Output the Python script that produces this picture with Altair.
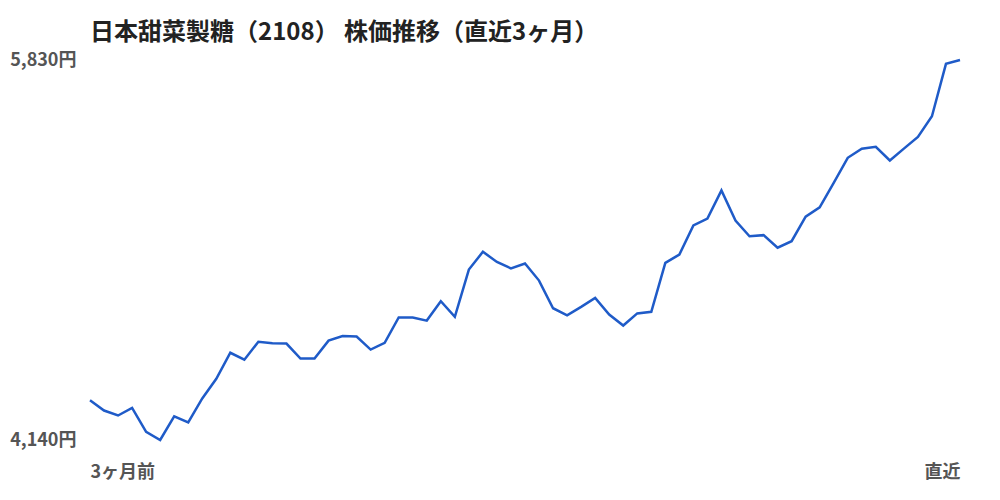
import altair as alt
import pandas as pd

prices = [4317, 4271, 4249, 4283, 4176, 4140, 4245, 4218, 4325, 4412,
          4528, 4497, 4577, 4570, 4569, 4502, 4502, 4582, 4602, 4600,
          4542, 4572, 4685, 4685, 4671, 4757, 4688, 4898, 4977, 4932,
          4903, 4925, 4849, 4726, 4694, 4732, 4772, 4698, 4649, 4703,
          4710, 4928, 4965, 5094, 5125, 5250, 5116, 5046, 5051, 4995,
          5024, 5133, 5175, 5284, 5395, 5435, 5444, 5383, 5436, 5488,
          5580, 5813, 5830]
days = list(range(len(prices)))
y_ticks = [4140, 5830]
x_ticks = [0, len(prices) - 1]
x_labels = ["3ヶ月前", "直近"]
title_text = "日本甜菜製糖（2108） 株価推移（直近3ヶ月）"

df = pd.DataFrame({"day": days, "price": prices})

font = "Noto Sans CJK JP"

x_expr = f"datum.value == {x_ticks[0]} ? '{x_labels[0]}' : '{x_labels[1]}'"

chart = alt.Chart(df).mark_line(color="#1f5bc8", strokeWidth=2.5).encode(
    x=alt.X("day:Q", scale=alt.Scale(domain=[x_ticks[0], x_ticks[1]], nice=False, zero=False),
            axis=alt.Axis(values=x_ticks, labelExpr=x_expr, title=None, grid=False,
                          domain=False, ticks=False, labelFlush=True, labelPadding=23,
                          labelFont=font, labelFontSize=18, labelFontWeight="bold",
                          labelColor="#555555")),
    y=alt.Y("price:Q", scale=alt.Scale(domain=y_ticks, nice=False, zero=False),
            axis=alt.Axis(values=y_ticks, labelExpr="format(datum.value, ',') + '円'",
                          title=None, grid=False, domain=False, ticks=False,
                          labelPadding=14, labelFont=font, labelFontSize=18,
                          labelFontWeight="bold", labelColor="#555555")),
).properties(
    width=870,
    height=380,
    title=alt.TitleParams(title_text, anchor="start", frame="group", font=font,
                          fontSize=24, fontWeight="bold", color="#222222", offset=6),
    autosize=alt.AutoSizeParams(type="none"),
    padding={"left": 82, "top": 52, "right": 20, "bottom": 55},
).configure_view(stroke=None)

chart.save("out.html", embed_options={"renderer": "svg", "actions": False})
